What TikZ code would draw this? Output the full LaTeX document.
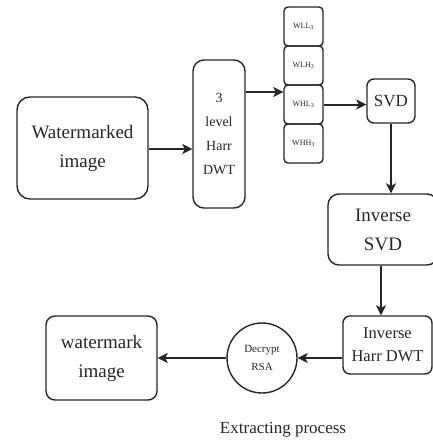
\documentclass[tikz,border=0pt]{standalone}
\usepackage{fontspec}
\setmainfont{Liberation Serif}
\usetikzlibrary{arrows.meta}
\tikzset{
  box/.style={draw=black!85, line width=1.4pt, rounded corners=#1, inner sep=0pt, align=center, text=black!85},
  box/.default=8pt,
  arr/.style={draw=black!85, line width=2pt, -{Stealth[length=10pt,width=10pt,inset=2.5pt]}},
  big/.style={font=\fontsize{19}{29}\selectfont},
  mid/.style={font=\fontsize{16.5}{23}\selectfont},
  sub/.style={box=4pt, minimum width=39pt, minimum height=39pt, font=\fontsize{8}{10}\selectfont}
}
\begin{document}
\begin{tikzpicture}[x=1pt,y=1pt]
\useasboundingbox (0,-445) rectangle (433,0);
\clip (0,-445) rectangle (433,0);

% input and decomposition
\node[box=13pt, big, minimum width=131pt, minimum height=102pt] (wm) at (82.5,-148) {Watermarked\\image};
\node[box=11pt, font=\fontsize{14}{24}\selectfont, minimum width=52pt, minimum height=148pt] (dwt) at (219,-134) {3\\level\\Harr\\DWT};

% sub-bands
\node[sub] (wll) at (303.5,-26.5) {WLL\textsubscript{3}};
\node[sub] (wlh) at (303.5,-65.5) {WLH\textsubscript{3}};
\node[sub] (whl) at (303.5,-104.5) {WHL\textsubscript{3}};
\node[sub] (whh) at (303.5,-143.5) {WHH\textsubscript{3}};

% singular value stages
\node[box=7pt, font=\fontsize{17}{23}\selectfont, minimum width=48pt, minimum height=44pt] (svd) at (391,-101) {SVD};
\node[box=11pt, big, minimum width=110pt, minimum height=71pt] (isvd) at (383,-229.5) {Inverse\\SVD};
\node[box=7pt, mid, minimum width=89pt, minimum height=58pt] (ihaar) at (387.5,-345) {Inverse\\Harr DWT};

% decryption and output
\node[draw=black!85, line width=1.4pt, circle, minimum size=70pt, inner sep=0pt, align=center, text=black!85, font=\fontsize{11}{18}\selectfont] (rsa) at (262,-358) {Decrypt\\RSA};
\node[box=9pt, big, minimum width=111pt, minimum height=84pt] (wimg) at (101.5,-358) {watermark\\image};

\node[text=black!85, font=\fontsize{17}{23}\selectfont] (cap) at (283,-430) {Extracting process};

% connectors
\coordinate (in) at (0,-149);
\coordinate (tap) at (0,-92);
\draw[arr] (wm.east |- in) -- (dwt.west |- in);
\draw[arr] (dwt.east |- tap) -- (whl.west |- tap);
\draw[arr] (whl.east) -- (svd.west |- whl.east);
\draw[arr] (svd.south) -- (svd.south |- isvd.north);
\coordinate (drop) at (381,0);
\draw[arr] (isvd.south -| drop) -- (ihaar.north -| drop);
\draw[arr] (ihaar.west |- rsa.east) -- (rsa.east);
\draw[arr] (rsa.west) -- (wimg.east |- rsa.west);
\end{tikzpicture}
\end{document}
